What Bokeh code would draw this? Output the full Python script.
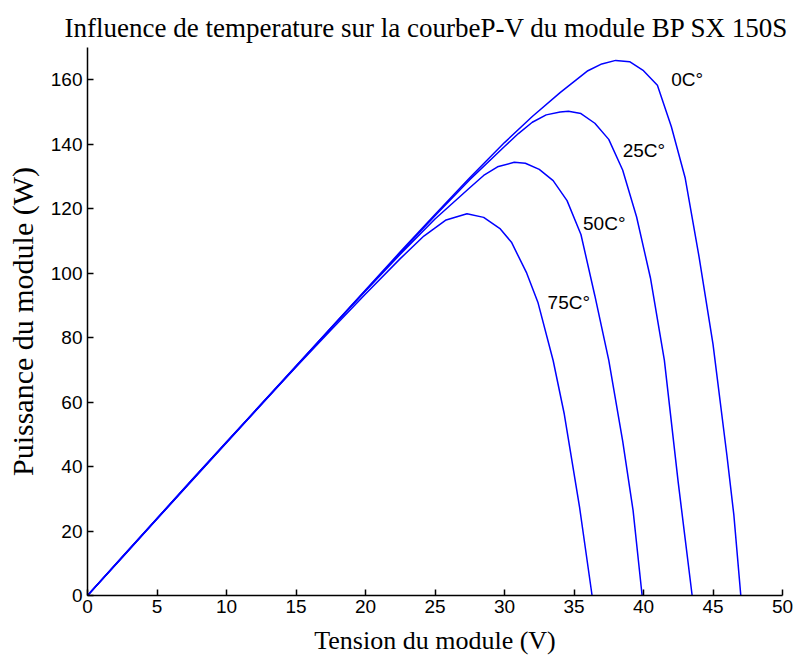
from bokeh.plotting import figure
from bokeh.models import Label, Range1d, FixedTicker
from bokeh.embed import file_html
from bokeh.resources import INLINE

# Tension (V) / Puissance (W)
v_0 = [0, 2.5, 5, 7.5, 10, 12.5, 15, 17.5, 20, 22.5, 25, 27.5, 30, 32, 34, 36, 37, 38, 39, 40, 41, 42, 43, 44, 45, 46, 46.5, 47.0]
p_0 = [0, 11.8, 23.7, 35.6, 47.5, 59.3, 71.1, 83.0, 94.8, 106.6, 118.2, 129.6, 140.5, 148.6, 156.0, 162.8, 164.9, 166.0, 165.6, 162.8, 158.3, 145.5, 129.5, 105.0, 78.0, 43.5, 25.0, 0]

v_25 = [0, 2.5, 5, 7.5, 10, 12.5, 15, 17.5, 20, 22.5, 25, 27.5, 30, 31, 32, 33, 34, 34.6, 35.5, 36.5, 37.5, 38.5, 39.5, 40.5, 41.5, 42.5, 43.0, 43.5]
p_25 = [0, 11.9, 23.8, 35.6, 47.4, 59.2, 71.0, 82.8, 94.6, 106.3, 117.8, 129.0, 139.3, 143.3, 146.8, 149.1, 150.0, 150.2, 149.5, 146.5, 141.5, 132.0, 117.5, 98.5, 73.0, 35.0, 17.5, 0]

v_50 = [0, 2.5, 5, 7.5, 10, 12.5, 15, 17.5, 20, 22.5, 25, 27.5, 28.5, 29.5, 30.7, 31.5, 32.5, 33.5, 34.5, 35.5, 36.5, 37.5, 38.5, 39.25, 39.9]
p_50 = [0, 11.95, 23.9, 35.8, 47.6, 59.4, 71.2, 82.9, 94.5, 105.9, 116.8, 126.5, 130.3, 133.0, 134.4, 134.1, 132.2, 128.7, 122.5, 112.0, 93.0, 73.0, 48.0, 26.4, 0]

v_75 = [0, 2.5, 5, 7.5, 10, 12.5, 15, 17.5, 20, 22.5, 24.2, 25.8, 27.3, 28.5, 29.7, 30.5, 31.6, 32.4, 33.5, 34.3, 35.4, 36.3]
p_75 = [0, 12.0, 23.9, 35.8, 47.6, 59.3, 70.9, 82.3, 93.5, 104.5, 111.5, 116.5, 118.4, 117.3, 113.7, 109.6, 100.0, 91.0, 72.9, 56.3, 27.4, 0]

labels = ["0C°", "25C°", "50C°", "75C°"]
label_v = [42.0, 38.5, 35.65, 33.1]
label_p = [160.2, 138.2, 115.4, 90.8]

x_ticks = [0, 5, 10, 15, 20, 25, 30, 35, 40, 45, 50]
y_ticks = [0, 20, 40, 60, 80, 100, 120, 140, 160]

p = figure(width=798, height=659, output_backend="svg", toolbar_location=None,
           x_range=Range1d(0, 50), y_range=Range1d(0, 170),
           min_border_left=87, min_border_right=16, min_border_top=47, min_border_bottom=64,
           title="Influence de temperature sur la courbeP-V du module BP SX 150S")

p.title.text_font = "Liberation Serif"
p.title.text_font_size = "27px"
p.title.text_font_style = "normal"
p.title.align = "left"
p.title.offset = -23
p.title.text_color = "black"
p.title.standoff = 10

p.outline_line_color = None
p.grid.visible = False

for vs, ps in [(v_0, p_0), (v_25, p_25), (v_50, p_50), (v_75, p_75)]:
    p.line(vs, ps, line_color="#0000ff", line_width=1.5)

for t, x, y in zip(labels, label_v, label_p):
    p.add_layout(Label(x=x, y=y, text=t, text_font="Liberation Sans", text_font_size="19px",
                       text_baseline="middle", text_align="left", text_color="black"))

for ax in (p.xaxis[0], p.yaxis[0]):
    ax.axis_line_color = "black"
    ax.axis_line_width = 1.5
    ax.major_tick_line_color = "black"
    ax.major_tick_line_width = 1.5
    ax.major_tick_in = 6
    ax.major_tick_out = 0
    ax.minor_tick_line_color = None
    ax.major_label_text_font = "Liberation Sans"
    ax.major_label_text_font_size = "19px"
    ax.major_label_text_color = "black"
    ax.axis_label_text_font = "Liberation Serif"
    ax.axis_label_text_font_style = "normal"
    ax.axis_label_text_color = "black"

p.xaxis.axis_label_text_font_size = "26px"
p.yaxis.axis_label_text_font_size = "30px"
p.xaxis.ticker = FixedTicker(ticks=x_ticks)
p.yaxis.ticker = FixedTicker(ticks=y_ticks)
p.xaxis.axis_label = "Tension du module (V)"
p.yaxis.axis_label = "Puissance du module (W)"
p.xaxis.major_label_standoff = 4
p.yaxis.major_label_standoff = 5
p.xaxis.axis_label_standoff = 10
p.yaxis.axis_label_standoff = 9

open("out.html", "w").write(file_html(p, INLINE))
